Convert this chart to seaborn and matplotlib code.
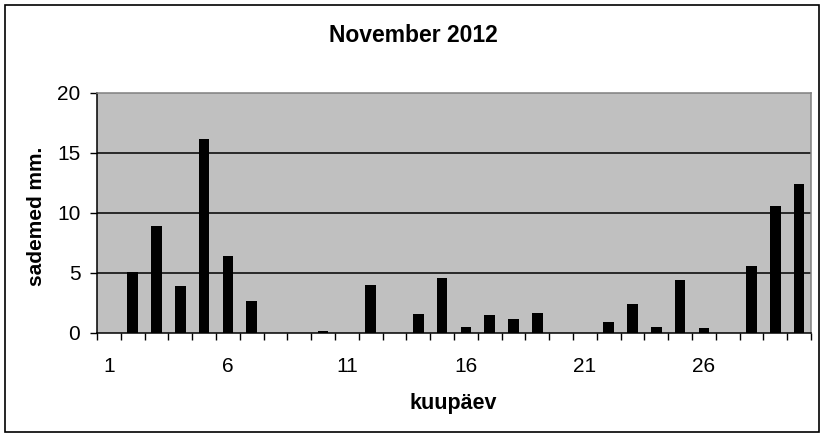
import matplotlib
matplotlib.use("Agg")
import matplotlib.pyplot as plt
from matplotlib.patches import Rectangle
import numpy as np
import pandas as pd
import seaborn as sns

# Daily precipitation, November 2012
days = list(range(1, 31))
precip_mm = [
    0.0, 5.1, 8.9, 3.9, 16.2, 6.4, 2.7, 0.0, 0.0, 0.2,
    0.0, 4.0, 0.0, 1.6, 4.6, 0.5, 1.5, 1.2, 1.7, 0.0,
    0.0, 0.9, 2.4, 0.5, 4.4, 0.4, 0.0, 5.6, 10.6, 12.4,
]
y_ticks = [0, 5, 10, 15, 20]
x_label_days = [1, 6, 11, 16, 21, 26]

title_text = "November 2012"
x_label = "kuupäev"
y_label = "sademed mm."

df = pd.DataFrame({"day": days, "precip": precip_mm})

sns.set_style("white")
plt.rcParams["font.family"] = ["Liberation Sans", "DejaVu Sans"]
plt.rcParams["text.color"] = "black"
plt.rcParams["xtick.color"] = "black"
plt.rcParams["ytick.color"] = "black"

fig = plt.figure(figsize=(8.25, 4.37), dpi=100)
W, H = 825, 437
ax = fig.add_axes([97 / W, 1 - 333 / H, (811 - 97) / W, (333 - 93) / H])

sns.barplot(data=df, x="day", y="precip", color="black", width=0.45,
            saturation=1, ax=ax, order=days, linewidth=0, edgecolor="black")

ax.set_facecolor("#C0C0C0")
ax.set_ylim(0, 20)
ax.set_xlim(-0.5, len(days) - 0.5)

# horizontal gridlines
for v in y_ticks[1:-1]:
    ax.axhline(v, color="black", lw=1.1, zorder=0.5)
ax.set_axisbelow(True)

for side in ["left", "bottom"]:
    ax.spines[side].set_color("black")
    ax.spines[side].set_linewidth(1.1)
for side in ["top", "right"]:
    ax.spines[side].set_visible(True)
    ax.spines[side].set_color("#808080")
    ax.spines[side].set_linewidth(1.1)

ax.set_yticks(y_ticks)
ax.set_yticklabels([str(t) for t in y_ticks], fontsize=15)
ax.tick_params(axis="y", direction="out", length=5, width=1, pad=7,
               left=True, labelcolor="black")

ax.set_xticks([days.index(d) for d in x_label_days])
ax.set_xticklabels([str(d) for d in x_label_days], fontsize=15)
ax.set_xticks(np.arange(-0.5, len(days), 1), minor=True)
ax.tick_params(axis="x", which="major", length=0, pad=17, labelcolor="black")
ax.tick_params(axis="x", which="minor", direction="out", length=5, width=1,
               bottom=True)

ax.set_xlabel("")
ax.set_ylabel("")
fig.text(453 / W, 1 - 403 / H, x_label, ha="center", va="center",
         fontsize=15.5, fontweight="bold", color="black")
fig.text(37 / W, 1 - 216 / H, y_label, ha="center", va="center",
         rotation=90, fontsize=15, fontweight="bold", color="black")
fig.text(413 / W, 1 - 36 / H, title_text, ha="center", va="center",
         fontsize=16.5, fontweight="bold", color="black")

# outer chart border
fig.patches.append(Rectangle((5 / W, 1 - 432 / H), (819 - 5) / W,
                             (432 - 5) / H, transform=fig.transFigure,
                             fill=False, edgecolor="black", lw=1.2))

fig.savefig("out.png", dpi=100)
